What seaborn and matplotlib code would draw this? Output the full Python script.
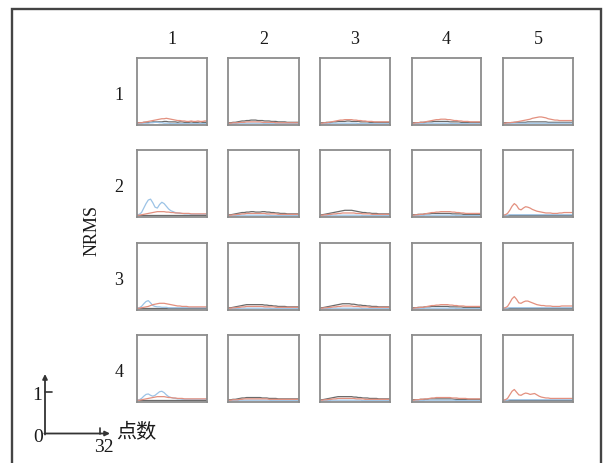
import matplotlib
matplotlib.use('Agg')
import matplotlib.pyplot as plt
import seaborn as sns
import pandas as pd

sns.set_theme(style='white')
plt.rcParams['font.family'] = ['Liberation Serif', 'Noto Sans CJK SC', 'DejaVu Sans']

points = list(range(1, 33))
row_labels = ['1', '2', '3', '4']
col_labels = ['1', '2', '3', '4', '5']
y_label = 'NRMS'
x_label = '点数'

# ---- row 1 ----
blue_r1c1 = [0.03,0.03,0.03,0.04,0.04,0.04,0.05,0.05,0.06,0.06,0.05,0.05,0.04,0.04,0.04,0.03,0.03,0.03,0.03,0.03,0.03,0.03,0.03,0.03,0.03,0.03,0.03,0.03,0.03,0.03,0.03,0.03]
red_r1c1  = [0.04,0.05,0.05,0.06,0.07,0.08,0.09,0.10,0.11,0.12,0.13,0.14,0.14,0.15,0.14,0.13,0.12,0.11,0.10,0.10,0.09,0.09,0.08,0.08,0.09,0.08,0.08,0.09,0.08,0.08,0.09,0.09]
gray_r1c1 = [0.05,0.05,0.05,0.06,0.06,0.06,0.06,0.07,0.07,0.07,0.07,0.07,0.08,0.08,0.07,0.07,0.07,0.07,0.06,0.07,0.07,0.06,0.06,0.06,0.07,0.06,0.06,0.06,0.07,0.06,0.06,0.06]

blue_r1c2 = [0.03,0.03,0.03,0.03,0.04,0.04,0.04,0.04,0.04,0.04,0.04,0.04,0.04,0.04,0.04,0.04,0.03,0.03,0.03,0.03,0.03,0.03,0.03,0.03,0.03,0.03,0.03,0.03,0.03,0.03,0.03,0.03]
red_r1c2  = [0.04,0.04,0.05,0.05,0.05,0.06,0.06,0.06,0.07,0.07,0.07,0.07,0.07,0.07,0.07,0.06,0.06,0.06,0.06,0.06,0.06,0.05,0.05,0.05,0.05,0.05,0.05,0.05,0.05,0.05,0.05,0.05]
gray_r1c2 = [0.05,0.05,0.06,0.06,0.07,0.08,0.09,0.09,0.10,0.10,0.11,0.11,0.11,0.10,0.10,0.10,0.09,0.09,0.09,0.08,0.08,0.08,0.07,0.07,0.07,0.07,0.06,0.06,0.06,0.06,0.06,0.06]

blue_r1c3 = [0.03,0.03,0.03,0.03,0.03,0.04,0.04,0.04,0.04,0.04,0.04,0.04,0.04,0.04,0.04,0.04,0.04,0.03,0.03,0.03,0.03,0.03,0.03,0.03,0.03,0.03,0.03,0.03,0.03,0.03,0.03,0.03]
red_r1c3  = [0.04,0.04,0.05,0.05,0.06,0.07,0.08,0.09,0.10,0.11,0.11,0.12,0.12,0.12,0.12,0.11,0.11,0.10,0.10,0.09,0.09,0.08,0.08,0.08,0.07,0.07,0.07,0.07,0.07,0.07,0.07,0.07]
gray_r1c3 = [0.05,0.05,0.05,0.06,0.06,0.06,0.07,0.07,0.08,0.08,0.08,0.08,0.09,0.09,0.08,0.08,0.08,0.08,0.07,0.07,0.07,0.07,0.06,0.06,0.06,0.06,0.06,0.06,0.06,0.06,0.06,0.06]

blue_r1c4 = [0.03,0.03,0.03,0.03,0.03,0.03,0.04,0.04,0.04,0.04,0.04,0.04,0.04,0.04,0.04,0.04,0.04,0.04,0.03,0.03,0.03,0.03,0.03,0.03,0.03,0.03,0.03,0.03,0.03,0.03,0.03,0.03]
red_r1c4  = [0.04,0.04,0.05,0.05,0.06,0.06,0.07,0.08,0.09,0.10,0.11,0.12,0.12,0.13,0.13,0.13,0.12,0.12,0.11,0.10,0.10,0.09,0.09,0.08,0.08,0.08,0.07,0.07,0.07,0.07,0.07,0.07]
gray_r1c4 = [0.05,0.05,0.05,0.05,0.06,0.06,0.06,0.07,0.07,0.07,0.08,0.08,0.08,0.08,0.08,0.08,0.08,0.07,0.07,0.07,0.07,0.07,0.06,0.06,0.06,0.06,0.06,0.06,0.06,0.06,0.06,0.06]

blue_r1c5 = [0.03,0.03,0.03,0.04,0.04,0.04,0.04,0.04,0.04,0.04,0.04,0.04,0.04,0.04,0.04,0.04,0.04,0.04,0.04,0.04,0.04,0.04,0.04,0.04,0.04,0.04,0.04,0.04,0.04,0.04,0.04,0.04]
red_r1c5  = [0.04,0.04,0.05,0.05,0.06,0.06,0.07,0.08,0.09,0.10,0.11,0.12,0.13,0.15,0.16,0.17,0.18,0.18,0.17,0.16,0.14,0.13,0.12,0.11,0.11,0.10,0.10,0.10,0.10,0.10,0.10,0.10]
gray_r1c5 = [0.05,0.05,0.05,0.05,0.05,0.06,0.06,0.06,0.06,0.06,0.06,0.07,0.07,0.07,0.07,0.07,0.07,0.07,0.07,0.07,0.06,0.06,0.06,0.06,0.06,0.06,0.06,0.06,0.06,0.06,0.06,0.06]

# ---- row 2 ----
blue_r2c1 = [0.05,0.06,0.10,0.20,0.30,0.38,0.40,0.32,0.22,0.20,0.28,0.33,0.30,0.24,0.18,0.14,0.12,0.10,0.09,0.08,0.08,0.07,0.07,0.07,0.06,0.06,0.06,0.06,0.06,0.06,0.06,0.06]
red_r2c1  = [0.04,0.04,0.05,0.06,0.07,0.08,0.09,0.10,0.11,0.12,0.12,0.12,0.12,0.11,0.11,0.10,0.10,0.09,0.09,0.09,0.08,0.08,0.08,0.08,0.07,0.07,0.07,0.07,0.07,0.07,0.07,0.07]
gray_r2c1 = [0.05,0.05,0.05,0.05,0.05,0.05,0.05,0.05,0.05,0.05,0.05,0.05,0.05,0.05,0.05,0.05,0.05,0.05,0.05,0.05,0.05,0.05,0.05,0.05,0.05,0.05,0.05,0.05,0.05,0.05,0.05,0.05]

blue_r2c2 = [0.03,0.03,0.03,0.03,0.03,0.04,0.04,0.04,0.04,0.04,0.04,0.04,0.04,0.04,0.04,0.04,0.04,0.04,0.04,0.03,0.03,0.03,0.03,0.03,0.03,0.03,0.03,0.03,0.03,0.03,0.03,0.03]
red_r2c2  = [0.04,0.04,0.05,0.05,0.06,0.06,0.07,0.07,0.08,0.08,0.08,0.08,0.08,0.08,0.08,0.08,0.08,0.07,0.07,0.07,0.07,0.07,0.06,0.06,0.06,0.06,0.06,0.06,0.06,0.06,0.06,0.06]
gray_r2c2 = [0.05,0.05,0.06,0.07,0.08,0.09,0.10,0.10,0.11,0.11,0.12,0.12,0.11,0.11,0.11,0.12,0.12,0.11,0.11,0.10,0.10,0.09,0.09,0.08,0.08,0.08,0.07,0.07,0.07,0.07,0.07,0.07]

blue_r2c3 = [0.03,0.03,0.03,0.03,0.03,0.04,0.04,0.04,0.04,0.04,0.04,0.04,0.04,0.04,0.04,0.04,0.04,0.04,0.04,0.03,0.03,0.03,0.03,0.03,0.03,0.03,0.03,0.03,0.03,0.03,0.03,0.03]
red_r2c3  = [0.04,0.04,0.05,0.05,0.06,0.06,0.07,0.07,0.08,0.08,0.09,0.09,0.09,0.09,0.09,0.09,0.08,0.08,0.08,0.07,0.07,0.07,0.07,0.06,0.06,0.06,0.06,0.06,0.06,0.06,0.06,0.06]
gray_r2c3 = [0.05,0.05,0.06,0.07,0.08,0.09,0.10,0.11,0.12,0.13,0.14,0.15,0.15,0.15,0.15,0.14,0.13,0.12,0.11,0.10,0.10,0.09,0.09,0.08,0.08,0.08,0.07,0.07,0.07,0.07,0.07,0.07]

blue_r2c4 = [0.03,0.03,0.03,0.03,0.03,0.03,0.04,0.04,0.04,0.04,0.04,0.04,0.04,0.04,0.04,0.04,0.04,0.04,0.04,0.04,0.03,0.03,0.03,0.03,0.03,0.03,0.03,0.03,0.03,0.03,0.03,0.03]
red_r2c4  = [0.04,0.04,0.05,0.05,0.06,0.06,0.07,0.08,0.09,0.10,0.10,0.11,0.11,0.12,0.12,0.12,0.12,0.12,0.11,0.11,0.10,0.10,0.09,0.09,0.08,0.08,0.08,0.08,0.08,0.08,0.08,0.08]
gray_r2c4 = [0.05,0.05,0.05,0.06,0.06,0.06,0.07,0.07,0.07,0.08,0.08,0.08,0.08,0.08,0.08,0.08,0.08,0.08,0.07,0.07,0.07,0.07,0.07,0.06,0.06,0.06,0.06,0.06,0.06,0.06,0.06,0.06]

blue_r2c5 = [0.04,0.04,0.04,0.05,0.05,0.05,0.05,0.05,0.05,0.05,0.05,0.05,0.05,0.05,0.05,0.05,0.05,0.05,0.05,0.05,0.05,0.05,0.05,0.05,0.05,0.05,0.05,0.05,0.05,0.05,0.05,0.05]
red_r2c5  = [0.04,0.05,0.08,0.15,0.24,0.30,0.26,0.18,0.16,0.20,0.23,0.22,0.20,0.17,0.15,0.13,0.12,0.11,0.10,0.09,0.09,0.09,0.08,0.08,0.08,0.09,0.09,0.10,0.10,0.10,0.10,0.10]
gray_r2c5 = [0.05,0.05,0.05,0.05,0.05,0.05,0.05,0.05,0.05,0.05,0.05,0.05,0.05,0.05,0.05,0.05,0.05,0.05,0.05,0.05,0.05,0.05,0.05,0.05,0.05,0.05,0.05,0.05,0.05,0.05,0.05,0.05]

# ---- row 3 ----
blue_r3c1 = [0.04,0.05,0.08,0.14,0.19,0.21,0.16,0.10,0.08,0.07,0.07,0.06,0.06,0.06,0.05,0.05,0.05,0.05,0.05,0.05,0.05,0.05,0.05,0.05,0.05,0.05,0.05,0.05,0.05,0.05,0.05,0.05]
red_r3c1  = [0.04,0.04,0.05,0.06,0.07,0.08,0.10,0.12,0.13,0.14,0.15,0.15,0.15,0.14,0.13,0.12,0.11,0.10,0.09,0.09,0.08,0.08,0.08,0.07,0.07,0.07,0.07,0.07,0.07,0.07,0.07,0.07]
gray_r3c1 = [0.05,0.05,0.05,0.05,0.05,0.05,0.05,0.05,0.05,0.05,0.05,0.05,0.05,0.05,0.05,0.05,0.05,0.05,0.05,0.05,0.05,0.05,0.05,0.05,0.05,0.05,0.05,0.05,0.05,0.05,0.05,0.05]

blue_r3c2 = [0.03,0.03,0.03,0.03,0.03,0.04,0.04,0.04,0.04,0.04,0.04,0.04,0.04,0.04,0.04,0.04,0.04,0.04,0.04,0.03,0.03,0.03,0.03,0.03,0.03,0.03,0.03,0.03,0.03,0.03,0.03,0.03]
red_r3c2  = [0.04,0.04,0.05,0.05,0.06,0.06,0.07,0.07,0.08,0.08,0.08,0.08,0.08,0.08,0.08,0.08,0.07,0.07,0.07,0.07,0.07,0.06,0.06,0.06,0.06,0.06,0.06,0.06,0.06,0.06,0.06,0.06]
gray_r3c2 = [0.05,0.05,0.06,0.07,0.08,0.09,0.10,0.11,0.12,0.12,0.12,0.12,0.12,0.12,0.12,0.12,0.11,0.11,0.10,0.10,0.09,0.09,0.08,0.08,0.08,0.08,0.07,0.07,0.07,0.07,0.07,0.07]

blue_r3c3 = [0.03,0.03,0.03,0.03,0.03,0.04,0.04,0.04,0.04,0.04,0.04,0.04,0.04,0.04,0.04,0.04,0.04,0.04,0.04,0.03,0.03,0.03,0.03,0.03,0.03,0.03,0.03,0.03,0.03,0.03,0.03,0.03]
red_r3c3  = [0.04,0.04,0.05,0.05,0.06,0.06,0.07,0.07,0.08,0.08,0.09,0.09,0.09,0.09,0.09,0.08,0.08,0.08,0.07,0.07,0.07,0.07,0.06,0.06,0.06,0.06,0.06,0.06,0.06,0.06,0.06,0.06]
gray_r3c3 = [0.05,0.05,0.06,0.07,0.08,0.09,0.10,0.11,0.12,0.13,0.14,0.14,0.14,0.14,0.13,0.13,0.12,0.11,0.11,0.10,0.10,0.09,0.09,0.08,0.08,0.08,0.07,0.07,0.07,0.07,0.07,0.07]

blue_r3c4 = [0.03,0.03,0.03,0.03,0.03,0.03,0.04,0.04,0.04,0.04,0.04,0.04,0.04,0.04,0.04,0.04,0.04,0.04,0.04,0.04,0.03,0.03,0.03,0.03,0.03,0.03,0.03,0.03,0.03,0.03,0.03,0.03]
red_r3c4  = [0.04,0.04,0.05,0.05,0.06,0.06,0.07,0.08,0.09,0.10,0.10,0.11,0.11,0.12,0.12,0.12,0.12,0.11,0.11,0.10,0.10,0.09,0.09,0.09,0.08,0.08,0.08,0.08,0.08,0.08,0.08,0.08]
gray_r3c4 = [0.05,0.05,0.05,0.06,0.06,0.06,0.07,0.07,0.07,0.08,0.08,0.08,0.08,0.08,0.08,0.08,0.08,0.07,0.07,0.07,0.07,0.07,0.07,0.06,0.06,0.06,0.06,0.06,0.06,0.06,0.06,0.06]

blue_r3c5 = [0.04,0.04,0.04,0.05,0.05,0.05,0.05,0.05,0.05,0.05,0.05,0.05,0.05,0.05,0.05,0.05,0.05,0.05,0.05,0.05,0.05,0.05,0.05,0.05,0.05,0.05,0.05,0.05,0.05,0.05,0.05,0.05]
red_r3c5  = [0.04,0.05,0.08,0.16,0.25,0.30,0.24,0.16,0.15,0.18,0.20,0.20,0.18,0.16,0.14,0.12,0.11,0.10,0.10,0.09,0.09,0.09,0.08,0.08,0.08,0.08,0.09,0.09,0.09,0.09,0.09,0.09]
gray_r3c5 = [0.05,0.05,0.05,0.05,0.05,0.05,0.05,0.05,0.05,0.05,0.05,0.05,0.05,0.05,0.05,0.05,0.05,0.05,0.05,0.05,0.05,0.05,0.05,0.05,0.05,0.05,0.05,0.05,0.05,0.05,0.05,0.05]

# ---- row 4 ----
blue_r4c1 = [0.04,0.05,0.08,0.13,0.17,0.18,0.15,0.13,0.15,0.19,0.23,0.24,0.21,0.16,0.12,0.10,0.09,0.08,0.07,0.07,0.06,0.06,0.06,0.06,0.06,0.06,0.06,0.06,0.06,0.06,0.06,0.06]
red_r4c1  = [0.04,0.04,0.05,0.06,0.07,0.08,0.09,0.10,0.11,0.12,0.12,0.12,0.12,0.11,0.10,0.10,0.09,0.09,0.08,0.08,0.08,0.07,0.07,0.07,0.07,0.07,0.07,0.07,0.07,0.07,0.07,0.07]
gray_r4c1 = [0.05,0.05,0.05,0.05,0.05,0.05,0.05,0.05,0.05,0.05,0.05,0.05,0.05,0.05,0.05,0.05,0.05,0.05,0.05,0.05,0.05,0.05,0.05,0.05,0.05,0.05,0.05,0.05,0.05,0.05,0.05,0.05]

blue_r4c2 = [0.03,0.03,0.03,0.03,0.03,0.04,0.04,0.04,0.04,0.04,0.04,0.04,0.04,0.04,0.04,0.04,0.04,0.04,0.04,0.03,0.03,0.03,0.03,0.03,0.03,0.03,0.03,0.03,0.03,0.03,0.03,0.03]
red_r4c2  = [0.04,0.04,0.05,0.05,0.05,0.06,0.06,0.07,0.07,0.07,0.07,0.07,0.07,0.07,0.07,0.07,0.07,0.07,0.06,0.06,0.06,0.06,0.06,0.06,0.06,0.06,0.06,0.06,0.06,0.06,0.06,0.06]
gray_r4c2 = [0.05,0.05,0.06,0.06,0.07,0.08,0.09,0.09,0.10,0.10,0.10,0.10,0.10,0.10,0.10,0.09,0.09,0.09,0.08,0.08,0.08,0.08,0.07,0.07,0.07,0.07,0.07,0.07,0.07,0.07,0.07,0.07]

blue_r4c3 = [0.03,0.03,0.03,0.03,0.03,0.04,0.04,0.04,0.04,0.04,0.04,0.04,0.04,0.04,0.04,0.04,0.04,0.04,0.04,0.03,0.03,0.03,0.03,0.03,0.03,0.03,0.03,0.03,0.03,0.03,0.03,0.03]
red_r4c3  = [0.04,0.04,0.05,0.05,0.06,0.06,0.07,0.07,0.08,0.08,0.08,0.08,0.08,0.08,0.08,0.08,0.07,0.07,0.07,0.07,0.06,0.06,0.06,0.06,0.06,0.06,0.06,0.06,0.06,0.06,0.06,0.06]
gray_r4c3 = [0.05,0.05,0.06,0.07,0.08,0.09,0.10,0.11,0.12,0.12,0.12,0.12,0.12,0.12,0.12,0.11,0.11,0.10,0.10,0.09,0.09,0.09,0.08,0.08,0.08,0.08,0.07,0.07,0.07,0.07,0.07,0.07]

blue_r4c4 = [0.03,0.03,0.03,0.03,0.03,0.03,0.04,0.04,0.04,0.04,0.04,0.04,0.04,0.04,0.04,0.04,0.04,0.04,0.04,0.04,0.03,0.03,0.03,0.03,0.03,0.03,0.03,0.03,0.03,0.03,0.03,0.03]
red_r4c4  = [0.04,0.04,0.05,0.05,0.06,0.06,0.07,0.07,0.08,0.09,0.09,0.10,0.10,0.10,0.10,0.10,0.10,0.10,0.09,0.09,0.09,0.08,0.08,0.08,0.08,0.07,0.07,0.07,0.07,0.07,0.07,0.07]
gray_r4c4 = [0.05,0.05,0.05,0.05,0.06,0.06,0.06,0.06,0.07,0.07,0.07,0.07,0.07,0.07,0.07,0.07,0.07,0.07,0.07,0.06,0.06,0.06,0.06,0.06,0.06,0.06,0.06,0.06,0.06,0.06,0.06,0.06]

blue_r4c5 = [0.04,0.04,0.04,0.05,0.05,0.05,0.05,0.05,0.05,0.05,0.05,0.05,0.05,0.05,0.05,0.05,0.05,0.05,0.05,0.05,0.05,0.05,0.05,0.05,0.05,0.05,0.05,0.05,0.05,0.05,0.05,0.05]
red_r4c5  = [0.04,0.05,0.08,0.16,0.24,0.28,0.22,0.16,0.15,0.18,0.20,0.19,0.17,0.18,0.19,0.16,0.13,0.11,0.10,0.09,0.09,0.08,0.08,0.08,0.08,0.08,0.08,0.08,0.08,0.08,0.08,0.08]
gray_r4c5 = [0.05,0.05,0.05,0.05,0.05,0.05,0.05,0.05,0.05,0.05,0.05,0.05,0.05,0.05,0.05,0.05,0.05,0.05,0.05,0.05,0.05,0.05,0.05,0.05,0.05,0.05,0.05,0.05,0.05,0.05,0.05,0.05]

series_colors = {'gray': '#6a6a6a', 'blue': '#9cc3e6', 'red': '#e3907f'}

rows = []
g = globals()
for r in range(1, 5):
    for c in range(1, 6):
        for s in ['gray', 'blue', 'red']:
            vals = g[f'{s}_r{r}c{c}']
            for x, v in zip(points, vals):
                rows.append({'row': r, 'col': c, 'series': s, 'x': x, 'y': v})
df = pd.DataFrame(rows)

W, H = 605, 463
fig = plt.figure(figsize=(W / 100, H / 100), dpi=100)

ov = fig.add_axes([0, 0, 1, 1])
ov.set_xlim(0, W)
ov.set_ylim(H, 0)
ov.axis('off')
frame_c = '#444444'
ov.plot([12, 12, 601, 601], [463, 9, 9, 463], color=frame_c, lw=1.7, solid_joinstyle='miter')

col_left = [137, 228.5, 320, 411.5, 503]
row_top = [58, 150, 243, 335]
pw, ph = 70, 67

for i, rl in enumerate(row_labels):
    for j, cl in enumerate(col_labels):
        left, top = col_left[j], row_top[i]
        ax = fig.add_axes([left / W, 1 - (top + ph) / H, pw / W, ph / H])
        sub = df[(df.row == i + 1) & (df.col == j + 1)]
        sns.lineplot(data=sub, x='x', y='y', hue='series', palette=series_colors,
                     hue_order=['gray', 'blue', 'red'], ax=ax, lw=0.9, legend=False)
        ax.set_xlim(1, 32)
        ax.set_ylim(0, 1.5)
        ax.set_xticks([])
        ax.set_yticks([])
        ax.set_xlabel('')
        ax.set_ylabel('')
        for sp in ax.spines.values():
            sp.set_color('#8c8c8c')
            sp.set_linewidth(1.3)

txt_c = '#1a1a1a'
for j, cl in enumerate(col_labels):
    ov.text(col_left[j] + pw / 2, 40, cl, ha='center', va='center', fontsize=13, color=txt_c)
for i, rl in enumerate(row_labels):
    ov.text(119, row_top[i] + ph / 2 + 4, rl, ha='center', va='center', fontsize=13, color=txt_c)
ov.text(92, 230, y_label, rotation=90, ha='center', va='center', fontsize=13, color=txt_c)

# scale indicator
ax_c = '#333333'
ov.annotate('', xy=(45, 374), xytext=(45, 434.5),
            arrowprops=dict(arrowstyle='-|>', color=ax_c, lw=1.3, mutation_scale=7, shrinkA=0, shrinkB=0))
ov.annotate('', xy=(110, 433.5), xytext=(44.4, 433.5),
            arrowprops=dict(arrowstyle='-|>', color=ax_c, lw=1.3, mutation_scale=7, shrinkA=0, shrinkB=0))
ov.plot([45, 52], [392, 392], color=ax_c, lw=1.2)
ov.plot([100, 100], [428, 433.5], color=ax_c, lw=1.2)
ov.text(37, 396, '1', ha='center', va='center', fontsize=14, color=txt_c)
ov.text(38, 438, '0', ha='center', va='center', fontsize=14, color=txt_c)
ov.text(104, 448, '32', ha='center', va='center', fontsize=14, color=txt_c)
ov.text(116, 434, x_label, ha='left', va='center', fontsize=14.5, color=txt_c)

fig.savefig('out.png', dpi=100)
